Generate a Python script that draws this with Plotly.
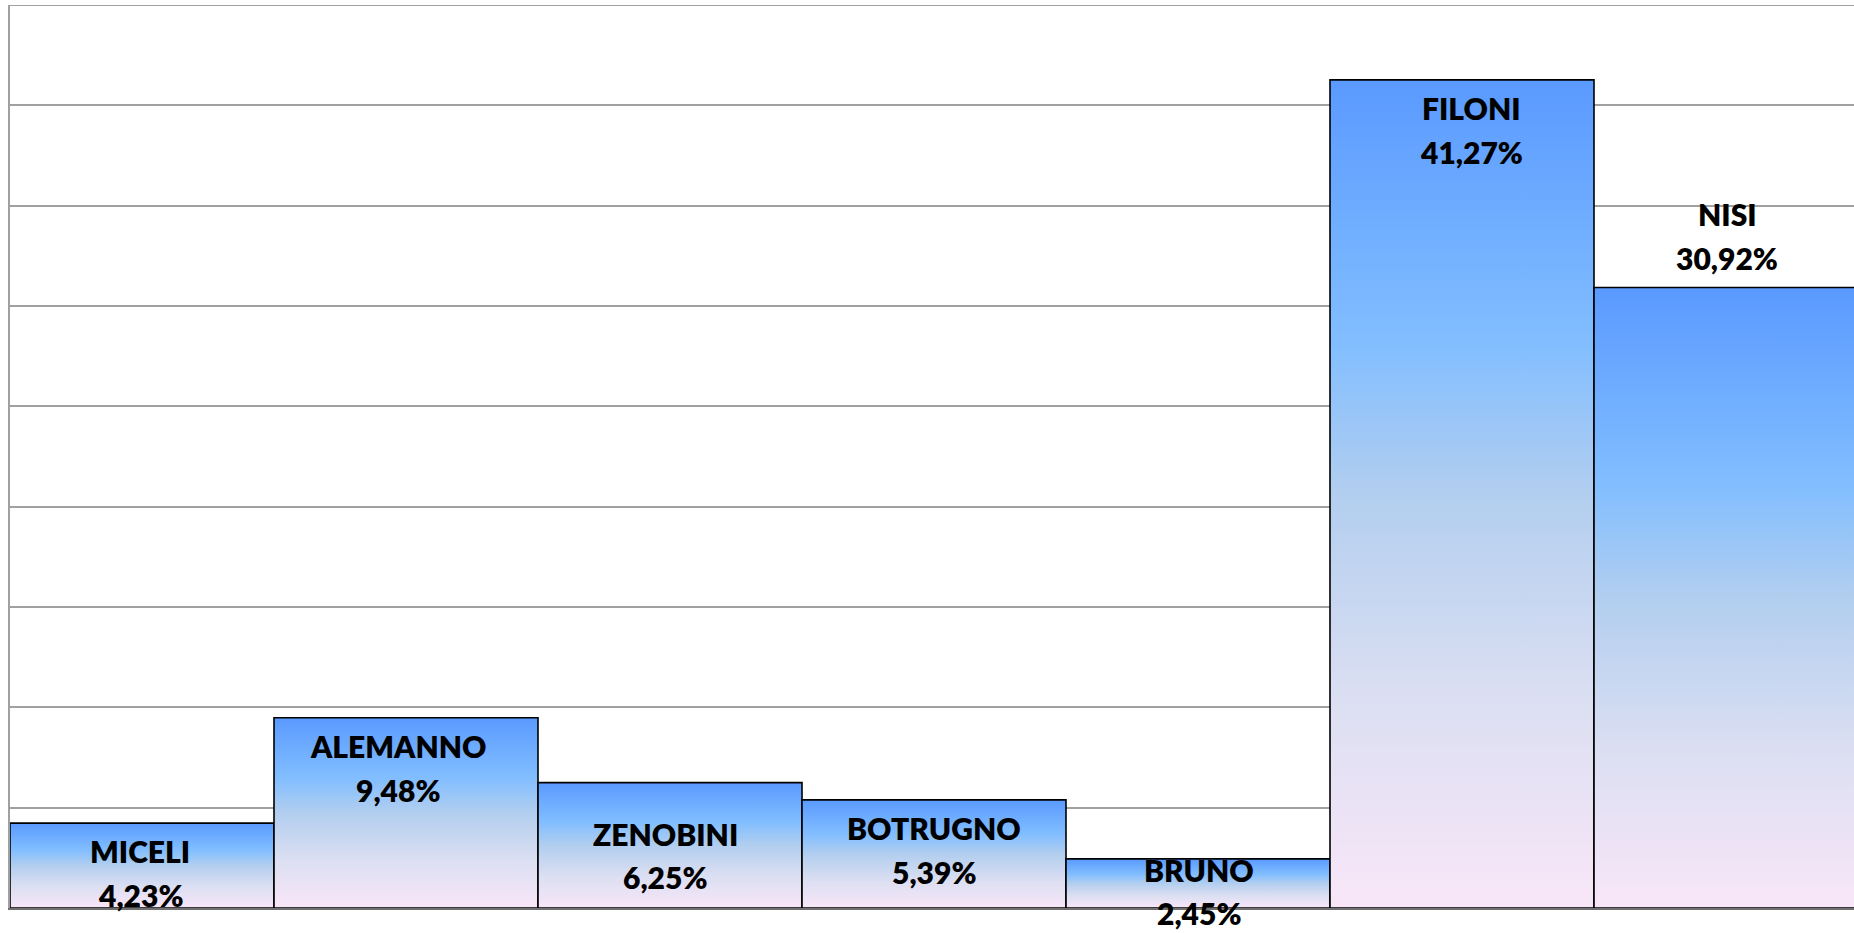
import plotly.graph_objects as go

candidates = ["MICELI", "ALEMANNO", "ZENOBINI", "BOTRUGNO", "BRUNO", "FILONI", "NISI"]
percentages = [4.23, 9.48, 6.25, 5.39, 2.45, 41.27, 30.92]
value_labels = ["4,23%", "9,48%", "6,25%", "5,39%", "2,45%", "41,27%", "30,92%"]

# label pixel offsets from bar top/centre (name line, value line, horizontal)
name_shift = [-28, -28, -51, -28, -11, -28, 74]
value_shift = [-72, -72, -94, -72, -54, -72, 30]
label_xshift = [-2, -8, -5, 0, 1, 9, 1]

gradient = [[0.0, "#F8E6F8"], [0.25, "#DCDFF2"], [0.5, "#B2CEEF"],
            [0.68, "#82BEFF"], [1.0, "#5A9AFF"]]

W, H = 1854, 933
ML, MR, MT, MB = 10, 0, 5, 25
bar_px = 264.0
plot_w = W - ML - MR
y_max = 45

fig = go.Figure()
for i, (name, v) in enumerate(zip(candidates, percentages)):
    x0, x1 = i - 0.5, i + 0.5
    fig.add_trace(go.Scatter(
        x=[x0, x0, x1, x1, x0], y=[0, v, v, 0, 0],
        mode="lines", fill="toself",
        fillgradient=dict(type="vertical", colorscale=gradient),
        line=dict(color="#000000", width=1.6),
        hoverinfo="text", text=f"{name}: {value_labels[i]}",
        showlegend=False,
    ))

font = dict(family="Lato, 'Open Sans', sans-serif", size=30, color="#000000", weight=800)
for i, (name, v) in enumerate(zip(candidates, percentages)):
    fig.add_annotation(x=i, y=v, text=name, showarrow=False, xshift=label_xshift[i],
                       xanchor="center", yanchor="middle", yshift=name_shift[i], font=font)
    fig.add_annotation(x=i, y=v, text=value_labels[i], showarrow=False, xshift=label_xshift[i],
                       xanchor="center", yanchor="middle", yshift=value_shift[i], font=font)

# top border line (gridline at the top of the range)
fig.add_shape(type="line", xref="paper", yref="y", x0=0, x1=1, y0=y_max, y1=y_max,
              line=dict(color="#A0A0A0", width=2), layer="below")

fig.update_layout(
    width=W, height=H,
    margin=dict(l=ML, r=MR, t=MT, b=MB, pad=0),
    paper_bgcolor="white", plot_bgcolor="white",
    xaxis=dict(range=[-0.5, -0.5 + plot_w / bar_px], showgrid=False, zeroline=False,
               showticklabels=False, ticks="", showline=True, linecolor="#707070",
               linewidth=2, fixedrange=True),
    yaxis=dict(range=[0, y_max], dtick=5, tick0=0, showgrid=True, gridcolor="#A0A0A0",
               gridwidth=1.5, zeroline=False, showticklabels=False, ticks="",
               showline=True, linecolor="#A0A0A0", linewidth=2, fixedrange=True),
)

fig.write_html("out.html", config={"displayModeBar": False},
               post_script="document.body.style.margin='0';document.body.style.overflow='hidden';")
